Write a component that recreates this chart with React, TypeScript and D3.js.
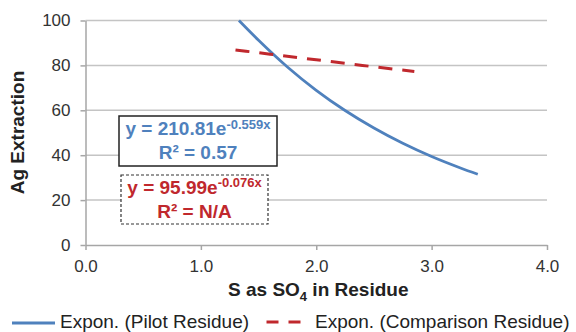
import { useEffect, useRef } from 'react';
import * as d3 from 'd3';

// values
const pilotX = [1.33, 1.5, 1.75, 2.0, 2.25, 2.5, 2.75, 3.0, 3.25, 3.4];
const pilotY = [100, 91.2, 79.3, 68.9, 59.9, 52.1, 45.3, 39.4, 34.3, 31.5];
const compX = [1.3, 1.6, 2.0, 2.4, 2.85];
const compY = [86.9, 85.0, 82.5, 80.0, 77.3];
const xTicks = [0, 1, 2, 3, 4];
const yTicks = [0, 20, 40, 60, 80, 100];
const legendLabels = ['Expon. (Pilot Residue)', 'Expon. (Comparison Residue)'];

const BLUE = '#4F81BD';
const RED = '#C0282D';
const FONT = '"Liberation Sans", Arial, sans-serif';

export default function App() {
  const svgRef = useRef<SVGSVGElement>(null);
  const width = 576;
  const height = 332;

  useEffect(() => {
    if (!svgRef.current) return;
    const svg = d3.select(svgRef.current);
    svg.selectAll('*').remove();
    svg.style('font-family', FONT);

    const margin = { top: 20.5, right: 29, bottom: 87, left: 85.5 };
    const x = d3.scaleLinear().domain([0, 4]).range([margin.left, width - margin.right]);
    const y = d3.scaleLinear().domain([0, 100]).range([height - margin.bottom, margin.top]);

    // gridlines
    svg
      .append('g')
      .selectAll('line')
      .data(yTicks.filter((d) => d > 0))
      .enter()
      .append('line')
      .attr('x1', x(0))
      .attr('x2', x(4))
      .attr('y1', (d) => y(d))
      .attr('y2', (d) => y(d))
      .attr('stroke', '#C4C4C4')
      .attr('stroke-width', 1.5);

    // axes
    const gx = svg
      .append('g')
      .attr('transform', `translate(0,${y(0)})`)
      .call(
        d3
          .axisBottom(x)
          .tickValues(xTicks)
          .tickFormat(d3.format('.1f'))
          .tickSizeInner(5)
          .tickSizeOuter(0)
          .tickPadding(10)
      );
    const gy = svg
      .append('g')
      .attr('transform', `translate(${x(0)},0)`)
      .call(d3.axisLeft(y).tickValues(yTicks).tickSizeInner(5).tickSizeOuter(0).tickPadding(10));

    [gx, gy].forEach((g) => {
      g.selectAll('.domain, .tick line').attr('stroke', '#A6A6A6').attr('stroke-width', 1.5);
      g.selectAll('text')
        .attr('fill', '#333')
        .style('font-size', '17px')
        .style('font-family', FONT);
    });

    // trend lines
    const line = d3
      .line<number>()
      .x((d) => x(d))
      .curve(d3.curveMonotoneX);

    svg
      .append('path')
      .attr('d', line.y((_, i) => y(pilotY[i]))(pilotX))
      .attr('fill', 'none')
      .attr('stroke', BLUE)
      .attr('stroke-width', 2.75);

    svg
      .append('path')
      .attr('d', line.y((_, i) => y(compY[i]))(compX))
      .attr('fill', 'none')
      .attr('stroke', RED)
      .attr('stroke-width', 3)
      .attr('stroke-dasharray', '14,10');

    // equation boxes
    const boxes = [
      { x0: 119, y0: 116, w: 158, h: 50, color: BLUE, coef: '210.81', exp: '-0.559x', r2: '0.57', dash: null, b1: 135, b2: 159 },
      { x0: 121, y0: 175, w: 147, h: 49, color: RED, coef: '95.99', exp: '-0.076x', r2: 'N/A', dash: '3,2', b1: 193.5, b2: 217.5 },
    ];
    boxes.forEach((b) => {
      svg
        .append('rect')
        .attr('x', b.x0)
        .attr('y', b.y0)
        .attr('width', b.w)
        .attr('height', b.h)
        .attr('fill', 'white')
        .attr('stroke', b.dash ? '#333' : '#222')
        .attr('stroke-width', b.dash ? 1.2 : 1.5)
        .attr('stroke-dasharray', b.dash);
      const cx = b.x0 + b.w / 2;
      const t1 = svg
        .append('text')
        .attr('x', cx)
        .attr('y', b.b1)
        .attr('text-anchor', 'middle')
        .attr('fill', b.color)
        .attr('font-weight', 'bold')
        .style('font-size', '19px');
      t1.append('tspan').text(`y = ${b.coef}e`);
      t1.append('tspan').attr('dy', -6.5).style('font-size', '13px').text(b.exp);
      svg
        .append('text')
        .attr('x', cx)
        .attr('y', b.b2)
        .attr('text-anchor', 'middle')
        .attr('fill', b.color)
        .attr('font-weight', 'bold')
        .style('font-size', '19px')
        .text(`R² = ${b.r2}`);
    });

    // axis titles
    const xt = svg
      .append('text')
      .attr('x', (x(0) + x(4)) / 2 + 2)
      .attr('y', 296)
      .attr('text-anchor', 'middle')
      .attr('font-weight', 'bold')
      .attr('fill', '#222')
      .style('font-size', '19px');
    xt.append('tspan').text('S as SO');
    xt.append('tspan').attr('dy', 5).style('font-size', '13px').text('4');
    xt.append('tspan').attr('dy', -5).text(' in Residue');

    svg
      .append('text')
      .attr('transform', `translate(23.5,${132.5}) rotate(-90)`)
      .attr('text-anchor', 'middle')
      .attr('font-weight', 'bold')
      .attr('fill', '#222')
      .style('font-size', '19px')
      .text('Ag Extraction');

    // legend
    const legend = [
      { lx: 12, tx: 60, color: BLUE, dash: null, ly: 323 },
      { lx: 266.5, tx: 315, color: RED, dash: '12,10', ly: 322 },
    ];
    legend.forEach((l, i) => {
      svg
        .append('line')
        .attr('x1', l.lx)
        .attr('x2', l.lx + 43)
        .attr('y1', l.ly)
        .attr('y2', l.ly)
        .attr('stroke', l.color)
        .attr('stroke-width', 3)
        .attr('stroke-dasharray', l.dash);
      svg
        .append('text')
        .attr('x', l.tx)
        .attr('y', 328)
        .attr('fill', '#222')
        .style('font-size', '19px')
        .text(legendLabels[i]);
    });
  }, []);

  return (
    <svg
      ref={svgRef}
      width={width}
      height={height}
      style={{ position: 'absolute', left: 0, top: 0, background: 'white' }}
    />
  );
}
